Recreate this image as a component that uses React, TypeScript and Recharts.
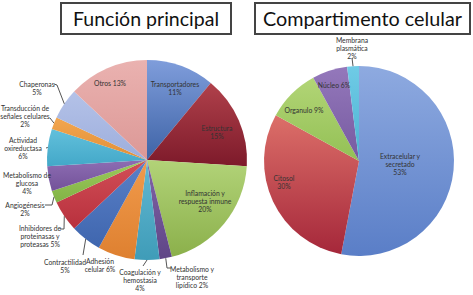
import { Cell, Pie, PieChart } from "recharts";

// Función principal (percent of proteins)
const funcionNames = [
  "Transportadores\n11%",
  "Estructura\n15%",
  "Inflamación y\nrespuesta inmune\n20%",
  "Metabolismo y\ntransporte\nlipídico 2%",
  "Coagulación y\nhemostasia\n4%",
  "Adhesión\ncelular 6%",
  "Contractilidad\n5%",
  "Inhibidores de\nproteinasas y\nproteasas 5%",
  "Angiogénesis\n2%",
  "Metabolismo de\nglucosa\n4%",
  "Actividad\noxireductasa\n6%",
  "Transducción de\nseñales celulares\n2%",
  "Chaperonas\n5%",
  "Otros 13%",
];
const funcionValues = [11, 15, 20, 2, 4, 6, 5, 5, 2, 4, 6, 2, 5, 13];

// Compartimento celular
const compartNames = [
  "Extracelular y\nsecretado\n53%",
  "Citosol\n30%",
  "Organulo 9%",
  "Núcleo 6%",
  "Membrana\nplasmática\n2%",
];
const compartValues = [53, 30, 9, 6, 2];

const funcionColors = [
  ["#7f9ddb", "#3e63a6"],
  ["#b0414b", "#7d1a2a"],
  ["#b2d378", "#8bb04b"],
  ["#8265a8", "#5f4586"],
  ["#62b8d2", "#3f9cb8"],
  ["#f19b4c", "#de8030"],
  ["#5a80c8", "#3f66ae"],
  ["#d24f57", "#b8303d"],
  ["#9ccb5c", "#82b346"],
  ["#8d6db3", "#735299"],
  ["#62c0dc", "#43a8c8"],
  ["#f2a650", "#e28f36"],
  ["#b4c2e8", "#9daedc"],
  ["#eab2b0", "#dc9896"],
];
const compartColors = [
  ["#8eaae0", "#5a7ec7"],
  ["#dc6f69", "#a5273a"],
  ["#b2d576", "#93c055"],
  ["#9478bb", "#765aa0"],
  ["#6fcbe6", "#4db3d2"],
];

// label block centre and leader line points, relative to the pie centre
const funcionLabels = [
  { dx: 28, dy: -72 },
  { dx: 70, dy: -28 },
  { dx: 58, dy: 41 },
  { dx: 45, dy: 117, line: [[20, 108], [24, 108]] },
  { dx: -7, dy: 120, line: [[-4, 106]] },
  { dx: -47, dy: 105 },
  { dx: -82, dy: 106, line: [[-64, 95]] },
  { dx: -107, dy: 76, line: [[-83, 69], [-87, 69]] },
  { dx: -122, dy: 49, line: [[-95, 45], [-102, 45]] },
  { dx: -120, dy: 23 },
  { dx: -124, dy: -12, line: [[-101, -12]] },
  { dx: -122, dy: -44, line: [[-97, -42]] },
  { dx: -110, dy: -72, line: [[-90, -75], [-93, -76]] },
  { dx: -37, dy: -77 },
];
const compartLabels = [
  { dx: 41, dy: 3 },
  { dx: -75, dy: 21 },
  { dx: -55, dy: -51 },
  { dx: -25, dy: -76 },
  { dx: -7, dy: -113, line: [[-7, -103]] },
];

const RAD = Math.PI / 180;
const FONT = "Lato, 'Open Sans', sans-serif";

type LabelLayout = { dx: number; dy: number; line?: number[][] };

const makeLabel = (layouts: LabelLayout[]) => (props: any) => {
  const { cx, cy, midAngle, outerRadius, index, name } = props;
  const layout = layouts[index];
  const lines = String(name).split("\n");
  const tx = cx + layout.dx;
  const ty = cy + layout.dy - ((lines.length - 1) * 8) / 2;
  let leader = null;
  if (layout.line) {
    const ex = cx + outerRadius * Math.cos(-midAngle * RAD);
    const ey = cy + outerRadius * Math.sin(-midAngle * RAD);
    const pts = [[ex, ey], ...layout.line.map(([x, y]) => [cx + x, cy + y])];
    leader = (
      <polyline
        points={pts.map((p) => p.join(",")).join(" ")}
        fill="none"
        stroke="#555"
        strokeWidth={1}
      />
    );
  }
  return (
    <g>
      {leader}
      <text
        x={tx}
        y={ty}
        textAnchor="middle"
        dominantBaseline="central"
        fontFamily={FONT}
        fontSize={6.8}
        fill="#333"
      >
        {lines.map((l, i) => (
          <tspan key={i} x={tx} dy={i === 0 ? 0 : 8}>
            {l}
          </tspan>
        ))}
      </text>
    </g>
  );
};

const funcionData = funcionNames.map((name, i) => ({ name, value: funcionValues[i] }));
const compartData = compartNames.map((name, i) => ({ name, value: compartValues[i] }));

function Title({ x, width, text, textWidth }: { x: number; width: number; text: string; textWidth: number }) {
  return (
    <g>
      <rect x={x} y={3} width={width} height={31} fill="#fff" stroke="#444" strokeWidth={2} />
      <text
        x={x + width / 2}
        y={26}
        textAnchor="middle"
        fontFamily={FONT}
        fontSize={20}
        fill="#111"
        textLength={textWidth}
        lengthAdjust="spacingAndGlyphs"
      >
        {text}
      </text>
    </g>
  );
}

export default function App() {
  return (
    <div style={{ position: "absolute", left: 0, top: 0, width: 473, height: 295, background: "#fff" }}>
      <PieChart width={473} height={295} margin={{ top: 0, right: 0, bottom: 0, left: 0 }}>
        <defs>
          {funcionColors.map(([a, b], i) => (
            <linearGradient key={`f${i}`} id={`fg${i}`} x1="0" y1="0" x2="0" y2="1">
              <stop offset="0%" stopColor={a} />
              <stop offset="100%" stopColor={b} />
            </linearGradient>
          ))}
          {compartColors.map(([a, b], i) => (
            <linearGradient key={`c${i}`} id={`cg${i}`} x1="0" y1="0" x2="0" y2="1">
              <stop offset="0%" stopColor={a} />
              <stop offset="100%" stopColor={b} />
            </linearGradient>
          ))}
        </defs>
        <Pie
          data={funcionData}
          dataKey="value"
          nameKey="name"
          cx={147}
          cy={160}
          outerRadius={100}
          startAngle={90}
          endAngle={-270}
          stroke="none"
          label={makeLabel(funcionLabels)}
          labelLine={false}
          isAnimationActive={false}
        >
          {funcionData.map((_, i) => (
            <Cell key={i} fill={`url(#fg${i})`} />
          ))}
        </Pie>
        <Pie
          data={compartData}
          dataKey="value"
          nameKey="name"
          cx={359}
          cy={161}
          outerRadius={95}
          startAngle={90}
          endAngle={-270}
          stroke="none"
          label={makeLabel(compartLabels)}
          labelLine={false}
          isAnimationActive={false}
        >
          {compartData.map((_, i) => (
            <Cell key={i} fill={`url(#cg${i})`} />
          ))}
        </Pie>
      </PieChart>
      <svg width={473} height={295} style={{ position: "absolute", left: 0, top: 0, pointerEvents: "none" }}>
        <Title x={61} width={170} text="Función principal" textWidth={146} />
        <Title x={255} width={215} text="Compartimento celular" textWidth={199} />
      </svg>
    </div>
  );
}
